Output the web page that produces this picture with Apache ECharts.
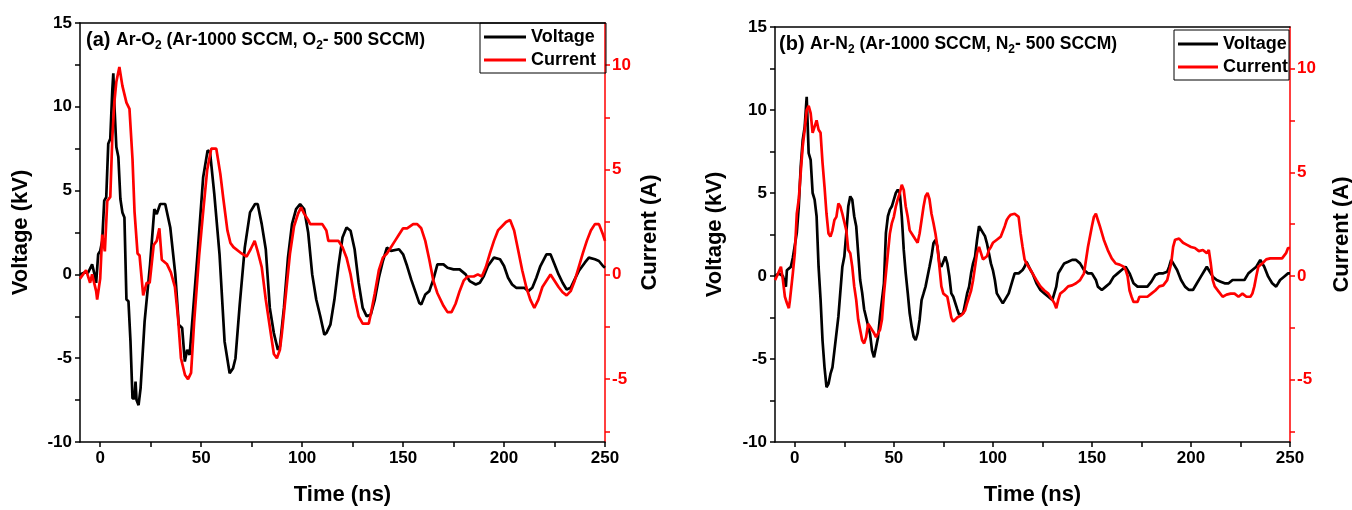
<!DOCTYPE html>
<html>
<head>
<meta charset="utf-8">
<script src="https://cdn.jsdelivr.net/npm/echarts@6/dist/echarts.min.js"></script>
<style>
html,body{margin:0;padding:0;background:#fff;}
#chart{width:1352px;height:510px;}
</style>
</head>
<body>
<div id="chart"></div>
<script>
// ---------- Panel (a): Ar-O2 ----------
const tA_V = [
  -10,-8,-6,-4,-3,-2,-1,0,1,2,
  3,4,5,6,6.5,7,8,9,10,11,
  12,13,14,15,16,17,17.5,18,19,20,
  22,24.7,26.8,28,29.7,32.2,34.7,37.2,38.9,40.6,
  41.9,43.1,44.3,45.6,48.2,51,53.2,54.4,56.5,59.1,
  61.6,64.1,65.8,67,69.1,71.6,74.2,76.7,78,80,
  82,84,86,88,89,91,93,95,97,99,
  101,103,105,107,109,111,112,114,116,118,
  120,122,124,126,128,130,132,134,136,138,
  140,142,144,148,150,152,154,156,158,159,
  161,163,165,167,170,172,175,178,181,183,
  186,188,190,192,195,198,200,202,204,206,
  210,212,214,216,218,221,223,225,227,229,
  231,233,235,237,240,242,245,247,249,250
];
const voltageA = [
  0,0.1,0.1,0.6,0.1,-0.5,1.2,1.4,2.0,4.4,
  4.6,7.8,8.1,11.0,12.0,10.2,7.6,7.0,4.5,3.7,
  3.4,-1.5,-1.6,-4.0,-7.4,-7.4,-6.4,-7.5,-7.8,-6.8,
  -2.8,0.6,3.9,3.6,4.2,4.2,2.8,0,-3.0,-3.2,
  -5.2,-4.5,-4.8,-2.8,1.2,5.8,7.4,7.3,4.8,1.2,
  -4.0,-5.9,-5.6,-5.0,-1.8,1.6,3.7,4.2,4.2,3.0,
  1.5,-2,-3.5,-4.5,-4.3,-2,1,3,3.9,4.2,
  3.9,2.5,0,-1.5,-2.5,-3.6,-3.5,-3,-1.5,0.5,
  2.2,2.8,2.6,1.5,-0.5,-2,-2.5,-2.4,-1.5,-0.2,
  0.8,1.6,1.4,1.5,1.2,0.5,-0.3,-1,-1.7,-1.8,
  -1.2,-1,-0.3,0.6,0.6,0.4,0.3,0.3,0,-0.4,
  -0.6,-0.5,-0.1,0.5,1.0,0.9,0.5,-0.2,-0.6,-0.8,
  -0.8,-1,-0.8,-0.2,0.5,1.2,1.2,0.6,0,-0.5,
  -0.9,-0.8,-0.3,0.2,0.7,1.0,0.9,0.8,0.5,0.4
];
const tA_I = [
  -10,-7,-5,-4,-2,-1.5,0,1,2.3,3.5,
  5,6,7,8,9.5,11,13,14.5,16,17,
  18.5,19.5,21.3,23,24.5,26.5,28,29.3,30.5,33,
  35,37,38.5,40,42,43.5,45,46.5,49,51,
  53,55,57.5,59.5,61,63,64.5,66,70,72.5,
  74.5,76.5,78,80,82,84,86,87.5,89,90,
  92,94,96,98,99.5,101,103,104,110,112,
  113,118,120,122,124,126,128,130,133,134,
  136,138,140,142,144,146,148,150,152,155,
  157,159,161,163,165,167,170,172,174,176,
  178,180,182,185,187,189,191,193,195,197,
  199,201,203,205,207,209,211,213,215,217,
  219,221,223,225,227,229,231,233,235,237,
  239,241,243,245,247,249,250
];
const currentA = [
  -0.2,0.2,-0.4,0,-0.8,-1.2,-0.2,1.9,1.1,3.5,
  3.7,6.5,8.2,9.2,9.9,9.0,8.2,7.9,5.5,3.0,
  1.0,0.9,-1.0,-0.4,-0.4,1.4,1.6,2.2,0.7,0.5,
  0.1,-0.6,-2.0,-4.0,-4.8,-5.0,-4.7,-2.3,0.9,3.0,
  5.0,6.0,6.0,4.8,3.6,2.1,1.5,1.3,1.0,0.85,
  1.2,1.6,1.1,0.35,-1.2,-2.5,-3.8,-4.0,-3.6,-2.8,
  -0.9,1.0,2.3,2.9,3.2,2.9,2.6,2.4,2.4,2.1,
  1.6,1.6,1.3,0.8,0,-1.1,-2.0,-2.35,-2.35,-1.9,
  -0.9,0.2,0.8,1.0,1.3,1.6,1.9,2.2,2.2,2.4,
  2.4,2.2,1.6,0.7,-0.3,-0.9,-1.5,-1.8,-1.8,-1.4,
  -0.8,-0.3,-0.1,-0.1,0,-0.1,0.35,1.0,1.6,2.1,
  2.3,2.5,2.6,2.1,1.15,0.2,-0.6,-1.2,-1.6,-1.2,
  -0.6,-0.3,0,-0.3,-0.6,-0.85,-1.0,-0.8,-0.3,0.35,
  1.0,1.6,2.1,2.4,2.4,1.9,1.6
];

// ---------- Panel (b): Ar-N2 ----------
const tB_V = [
  -10,-8,-6,-4.5,-4,-2,-1,0,1,2,
  3,4,5,6,7,8,9,10,11,12,
  13,14,15,16,17,18,19,20,22,24,
  25,26,27,28,29,30,31,32,33,34,
  35,37,38,39,40,41,42,43,45,46,
  47,48,49,50,51,52,53,54,55,56,
  57,58,59,60,61,62,63,64,65,66,
  68,69,70,71,72,73,74,75,76,77,
  78,79,80,81,82,83,84,85,86,87,
  88,89,90,91,92,93,94,95,96,97,
  98,99,100,101,102,103,104,105,106,107,
  108,110,111,113,115,116,117,118,119,120,
  122,124,126,128,130,131,132,133,134,136,
  138,140,142,144,146,148,150,152,153,155,
  157,159,161,163,165,167,169,171,173,175,
  178,180,182,184,186,188,189,190,191,193,
  195,197,199,201,203,205,207,208,209,211,
  213,215,217,219,221,223,225,227,229,231,
  233,235,237,239,241,243,245,247,249,250
];
const voltageB = [
  0,0.15,0,-0.65,0.35,0.55,1.1,1.2,2.6,4.2,
  6.6,8.2,9.0,10.8,7.4,7.0,5.0,4.6,3.6,0.56,
  -1.4,-3.9,-5.5,-6.7,-6.5,-5.9,-5.5,-4.5,-2.45,0.56,
  1.17,2.6,4.2,4.8,4.6,3.6,3.0,1.37,-0.24,-1.0,
  -2.0,-3.0,-3.5,-4.5,-4.9,-4.3,-3.7,-2.45,-0.44,2.6,
  3.6,4.0,4.2,4.6,5.0,5.2,5.0,3.6,1.57,0.16,
  -1.0,-2.25,-3.05,-3.66,-3.86,-3.46,-2.65,-1.45,-1.05,-0.64,
  0.56,1.17,1.97,2.17,1.77,0.76,0.56,0.56,1.17,0.76,
  0,-1.05,-1.25,-1.25,-2.0,-2.35,-2.35,-2.25,-1.65,-1.05,
  -0.64,0.16,0.76,1.17,2.17,3.0,3.0,2.6,2.4,1.97,
  1.37,0.76,0.36,-0.24,-1.05,-1.15,-1.45,-1.65,-1.45,-1.45,
  -1.05,-0.24,0.16,0.16,0.36,0.56,0.86,0.76,0.36,0.16,
  -0.44,-0.84,-1.05,-1.25,-1.45,-1.05,-0.64,0.16,0.36,0.76,
  0.86,0.97,0.97,0.76,0.36,0.16,0.16,-0.24,-0.64,-0.84,
  -0.64,-0.44,-0.04,0.16,0.36,0.56,0.16,-0.44,-0.64,-0.64,
  -0.64,-0.34,0.06,0.16,0.16,0.26,0.56,0.97,0.86,0.36,
  -0.24,-0.64,-0.84,-0.84,-0.44,-0.04,0.36,0.56,0.36,-0.04,
  -0.24,-0.34,-0.44,-0.44,-0.24,-0.24,-0.24,-0.24,0.16,0.36,
  0.56,0.97,0.56,-0.04,-0.44,-0.64,-0.24,-0.04,0.16,0.16
];
const tB_I = [
  -10,-9,-7,-6,-5,-4,-3,-2.5,-1,0,
  1,2,3,4,5,6,7,8,9,10,
  11,12,13,14,15,16,17,18,19,20,
  21,22,23,24,25,26,27,28,29,30,
  31,32,33,34,35,36,37,38,39,40,
  41,42,43,44,45,46,47,48,49,50,
  51,52,53,54,55,56,57,58,59,60,
  61,62,63,64,65,66,67,68,69,70,
  71,72,73,74,75,76,77,78,79,80,
  81,82,83,84,85,86,87,88,89,90,
  91,92,93,94,95,96,97,98,99,100,
  102,104,106,107,108,109,111,113,114,115,
  116,117,118,119,120,122,124,126,128,130,
  131,132,133,134,136,138,140,142,144,146,
  148,150,151,152,153,154,156,158,160,162,
  164,166,167,168,169,170,171,173,174,176,
  178,180,182,184,186,188,190,191,192,194,
  196,198,200,202,204,206,208,209,210,211,
  212,214,216,218,220,222,224,226,228,230,
  231,232,233,234,236,238,240,242,244,246,
  248,249,250
];
const currentB = [
  -0.2,0,0.45,-0.2,-1.0,-1.3,-1.55,-1.2,0.13,1.1,
  3.0,3.7,5.0,6.25,7.05,8.0,8.2,7.85,6.9,6.9,
  7.5,7.05,6.9,5.45,4.3,3.0,2.05,1.9,2.2,2.7,
  2.85,3.5,3.35,3.0,3.0,2.2,1.25,1.1,0.45,-0.5,
  -1.15,-2.1,-2.6,-3.1,-3.25,-2.95,-2.3,-2.45,-2.6,-2.75,
  -2.95,-2.95,-2.6,-2.1,-0.85,0.13,1.1,2.05,2.55,2.85,
  3.35,3.7,4.0,4.4,4.15,3.35,2.85,2.2,2.05,2.05,
  1.75,1.6,2.05,2.7,3.35,3.85,4.0,3.7,3.0,2.55,
  2.05,1.4,0.45,-0.5,-0.85,-0.85,-1.0,-1.5,-2.0,-2.2,
  -2.2,-2.0,-2.0,-1.9,-1.8,-1.65,-1.3,-1.0,-0.7,-0.2,
  0.45,1.1,1.4,1.1,0.8,0.8,0.95,1.25,1.4,1.6,
  1.75,1.9,2.4,2.7,2.85,2.95,3.0,2.85,2.05,1.4,
  0.8,0.6,0.45,0.3,0.13,-0.2,-0.5,-0.7,-0.85,-1.15,
  -1.3,-1.55,-1.15,-0.85,-0.7,-0.5,-0.45,-0.35,-0.2,0.13,
  1.4,2.4,2.85,3.0,2.7,2.4,1.75,1.25,0.85,0.6,
  0.55,0.45,0.3,0,-0.7,-1.0,-1.25,-1.25,-1.0,-1.0,
  -1.0,-0.85,-0.7,-0.5,-0.45,-0.2,0.6,1.4,1.75,1.8,
  1.6,1.5,1.4,1.35,1.2,1.25,1.1,1.25,0.6,-0.2,
  -0.5,-0.75,-1.0,-0.9,-0.85,-0.85,-1.0,-0.85,-1.0,-1.0,
  -0.85,-0.5,0,0.45,0.6,0.8,0.85,0.85,0.85,0.85,
  1.1,1.35,1.35
];

// ---------- Tick values ----------
const xTickValues = [0,25,50,75,100,125,150,175,200,225,250];
const xLabelValues = [0,50,100,150,200,250];
const vTickValues = [-10,-7.5,-5,-2.5,0,2.5,5,7.5,10,12.5,15];
const vLabelValues = [-10,-5,0,5,10,15];
const iTickValues = [-7.5,-5,-2.5,0,2.5,5,7.5,10];
const iLabelValues = [-5,0,5,10];
const seriesNames = ['Voltage','Current'];
const panelTitles = [
  ['(a) ', 'Ar-O', '2', ' (Ar-1000 SCCM, O', '2', '- 500 SCCM)'],
  ['(b) ', 'Ar-N', '2', ' (Ar-1000 SCCM, N', '2', '- 500 SCCM)']
];

const FONT = 'Liberation Sans, Arial, Helvetica, sans-serif';
const zip = (t, v) => t.map((x, i) => [x, v[i]]);

function xAxisPair(g) {
  return [{
    type: 'value', gridIndex: g, min: -10, max: 250, position: 'bottom',
    axisLine: {show: true, onZero: false, lineStyle: {color: '#000', width: 1.5}},
    axisTick: {show: true, customValues: xTickValues, length: 5, lineStyle: {color: '#000', width: 1.5}},
    axisLabel: {customValues: xLabelValues, color: '#000', fontWeight: 'bold', fontSize: 17, fontFamily: FONT, margin: 8},
    splitLine: {show: false},
    name: 'Time (ns)', nameLocation: 'middle', nameGap: 42,
    nameTextStyle: {color: '#000', fontWeight: 'bold', fontSize: 22, fontFamily: FONT}
  }, {
    type: 'value', gridIndex: g, min: -10, max: 250, position: 'top',
    axisLine: {show: true, onZero: false, lineStyle: {color: '#000', width: 1.5}},
    axisTick: {show: false}, axisLabel: {show: false}, splitLine: {show: false}
  }];
}
function yAxisPair(g, leftGap, rightGap) {
  return [{
    type: 'value', gridIndex: g, min: -10, max: 15, interval: 5, position: 'left',
    axisLine: {show: true, onZero: false, lineStyle: {color: '#000', width: 1.5}},
    axisTick: {show: true, customValues: vTickValues, length: 5, lineStyle: {color: '#000', width: 1.5}},
    axisLabel: {customValues: vLabelValues, color: '#000', fontWeight: 'bold', fontSize: 17, fontFamily: FONT, margin: 8},
    splitLine: {show: false},
    name: 'Voltage (kV)', nameLocation: 'middle', nameGap: leftGap, nameRotate: 90,
    nameTextStyle: {color: '#000', fontWeight: 'bold', fontSize: 22, fontFamily: FONT}
  }, {
    type: 'value', gridIndex: g, min: -8, max: 12, position: 'right',
    axisLine: {show: true, onZero: false, lineStyle: {color: '#ff0000', width: 1.5}},
    axisTick: {show: true, customValues: iTickValues, length: 5, lineStyle: {color: '#ff0000', width: 1.5}},
    axisLabel: {customValues: iLabelValues, color: '#ff0000', fontWeight: 'bold', fontSize: 17, fontFamily: FONT, margin: 7},
    splitLine: {show: false},
    name: 'Current (A)', nameLocation: 'middle', nameGap: rightGap, nameRotate: 90,
    nameTextStyle: {color: '#000', fontWeight: 'bold', fontSize: 22, fontFamily: FONT}
  }];
}
function lineSeries(name, xi, yi, data, color) {
  return {
    name: name, type: 'line', xAxisIndex: xi, yAxisIndex: yi, data: data,
    showSymbol: false, symbol: 'none', smooth: false,
    lineStyle: {color: color, width: 2.7}, itemStyle: {color: color},
    emphasis: {disabled: true}, animation: false
  };
}
function legendAt(left, top, padRight, itemW) {
  return {
    left: left, top: top, orient: 'vertical', data: seriesNames,
    borderColor: '#000', borderWidth: 1, padding: [5, padRight, 4, 4], itemGap: 5,
    icon: 'rect', itemWidth: itemW, itemHeight: 3,
    textStyle: {color: '#000', fontWeight: 'bold', fontSize: 18, fontFamily: FONT},
    selectedMode: false
  };
}
function titleText(left, top, parts) {
  return {
    type: 'text', left: left, top: top,
    style: {
      text: '{a|' + parts[0] + '}{m|' + parts[1] + '}{s|' + parts[2] + '}{m|' + parts[3] + '}{s|' + parts[4] + '}{m|' + parts[5] + '}',
      fontFamily: FONT,
      rich: {
        a: {fontSize: 20, fontWeight: 'bold', fontFamily: FONT, fill: '#000', lineHeight: 24, verticalAlign: 'middle'},
        m: {fontSize: 17.5, fontWeight: 'bold', fontFamily: FONT, fill: '#000', lineHeight: 24, verticalAlign: 'middle'},
        s: {fontSize: 12, fontWeight: 'bold', fontFamily: FONT, fill: '#000', lineHeight: 12, verticalAlign: 'bottom'}
      }
    }
  };
}

const chart = echarts.init(document.getElementById('chart'), null, {renderer: 'canvas'});
chart.setOption({
  backgroundColor: '#fff',
  animation: false,
  grid: [
    {left: 80, top: 23, width: 525, height: 419, outerBoundsMode: 'none'},
    {left: 775, top: 27, width: 515, height: 415, outerBoundsMode: 'none'}
  ],
  xAxis: [].concat(xAxisPair(0), xAxisPair(1)),
  yAxis: [].concat(yAxisPair(0, 48, 34), yAxisPair(1, 49, 41)),
  legend: [legendAt(480, 23, 10, 42), legendAt(1174, 30, 1, 40)],
  graphic: [titleText(86, 30, panelTitles[0]), titleText(779, 34, panelTitles[1])],
  series: [
    lineSeries(seriesNames[0], 0, 0, zip(tA_V, voltageA), '#000000'),
    lineSeries(seriesNames[1], 0, 1, zip(tA_I, currentA), '#ff0000'),
    lineSeries(seriesNames[0], 2, 2, zip(tB_V, voltageB), '#000000'),
    lineSeries(seriesNames[1], 2, 3, zip(tB_I, currentB), '#ff0000')
  ]
});
</script>
</body>
</html>
